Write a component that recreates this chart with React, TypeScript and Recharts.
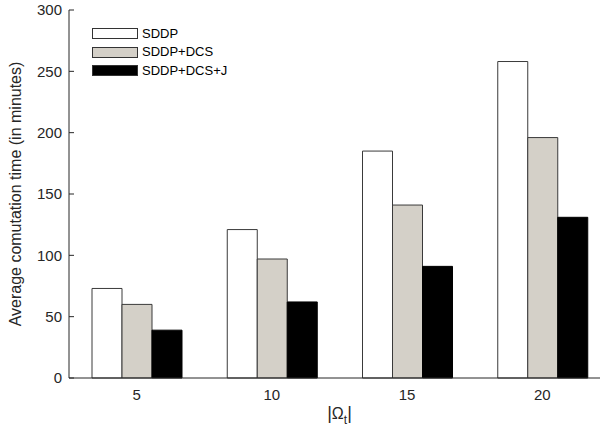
import React from 'react';
import { BarChart, Bar, XAxis, YAxis, Legend } from 'recharts';

const categories = ['5', '10', '15', '20'];
const sddp = [73, 121, 185, 258];
const sddpDcs = [60, 97, 141, 196];
const sddpDcsJ = [39, 62, 91, 131];
const yTicks = [0, 50, 100, 150, 200, 250, 300];
const seriesNames = ['SDDP', 'SDDP+DCS', 'SDDP+DCS+J'];
const seriesKeys = ['s0', 's1', 's2'];
const seriesFills = ['#ffffff', '#d4d0c8', '#000000'];
const yTitle = 'Average comutation time (in minutes)';

const data = categories.map((c, i) => ({ name: c, s0: sddp[i], s1: sddpDcs[i], s2: sddpDcsJ[i] }));

const FONT = '"Liberation Sans", Arial, Helvetica, sans-serif';
const AX = '#262626';

const XTitle = (props: any) => {
  const vb = props.viewBox || {};
  const cx = vb.x + vb.width / 2;
  return (
    <text x={cx} y={419} textAnchor="middle" fontFamily={FONT} fontSize={16} fill={AX}>
      <tspan fontSize={18}>|</tspan>
      <tspan>Ω</tspan>
      <tspan dy={5} fontSize={12}>t</tspan>
      <tspan dy={-5} fontSize={18}>|</tspan>
    </text>
  );
};

const YTitle = (props: any) => {
  const vb = props.viewBox || {};
  const cy = vb.y + vb.height / 2;
  return (
    <text
      x={21}
      y={cy}
      transform={`rotate(-90, 21, ${cy})`}
      textAnchor="middle"
      fontFamily={FONT}
      fontSize={16}
      fill={AX}
    >
      {yTitle}
    </text>
  );
};

const LegendBox = () => (
  <div style={{ fontFamily: FONT, fontSize: 13, color: '#000', lineHeight: '18.5px' }}>
    {seriesNames.map((n, i) => (
      <div key={n} style={{ display: 'flex', alignItems: 'center', height: 18.5 }}>
        <div
          style={{
            width: 44,
            height: 9,
            border: '1px solid #333',
            background: seriesFills[i],
          }}
        />
        <span style={{ marginLeft: 4 }}>{n}</span>
      </div>
    ))}
  </div>
);

const empty = () => <g />;

export default function App() {
  return (
    <div style={{ position: 'absolute', left: 0, top: 0, width: 600, height: 433, overflow: 'hidden', background: '#fff' }}>
      <BarChart
        width={606}
        height={433}
        data={data}
        margin={{ top: 10, right: -4, bottom: 25, left: 0 }}
        barGap={0}
        barSize={30}
      >
        <XAxis
          xAxisId="b"
          dataKey="name"
          height={30}
          axisLine={{ stroke: AX }}
          tickLine={false}
          tickSize={6}
          tickMargin={5}
          tick={{ fill: AX, fontSize: 15, fontFamily: FONT }}
          label={<XTitle />}
        />
        <XAxis
          xAxisId="t"
          dataKey="name"
          orientation="top"
          height={0}
          axisLine={{ stroke: AX }}
          tickLine={{ stroke: AX }}
          tickSize={-5}
          tick={empty}
        />
        <YAxis
          yAxisId="l"
          width={69}
          domain={[0, 300]}
          ticks={yTicks}
          axisLine={{ stroke: AX }}
          tickLine={{ stroke: AX }}
          tickSize={-5}
          tickMargin={12}
          tick={{ fill: AX, fontSize: 15, fontFamily: FONT }}
          label={<YTitle />}
        />
        <Legend
          layout="horizontal"
          verticalAlign="middle"
          align="center"
          content={<LegendBox />}
          wrapperStyle={{ position: 'absolute', left: 92, top: 24.5, width: 'auto', height: 'auto' }}
        />
        {seriesKeys.map((k, i) => (
          <Bar
            key={k}
            xAxisId="b"
            yAxisId="l"
            dataKey={k}
            name={seriesNames[i]}
            fill={seriesFills[i]}
            stroke={i === 2 ? '#000' : '#3a3a3a'}
            strokeWidth={1}
            isAnimationActive={false}
          />
        ))}
      </BarChart>
    </div>
  );
}
